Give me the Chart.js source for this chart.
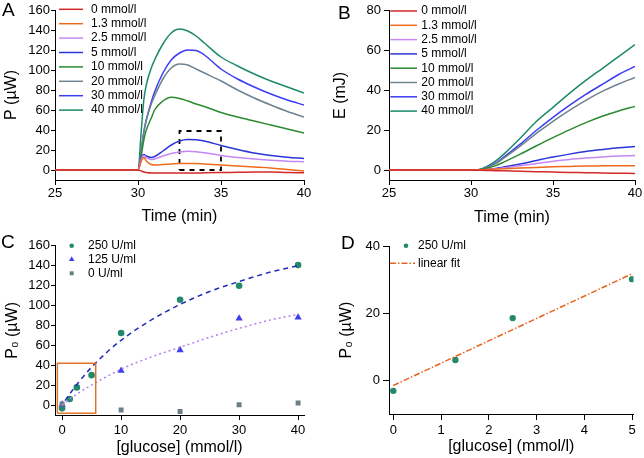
<!DOCTYPE html>
<html>
<head>
<meta charset="utf-8">
<script src="https://cdn.jsdelivr.net/npm/chart.js@4.4.0/dist/chart.umd.min.js"></script>
<style>
  html, body { margin: 0; padding: 0; background: #fff; }
  #fig { position: relative; width: 644px; height: 458px; font-family: 'Liberation Sans', Arial, sans-serif; }
  .panel { position: absolute; width: 322px; height: 229px; }
  .letter { position: absolute; font-size: 19px; line-height: 19px; color: #000; }
</style>
</head>
<body>
<div id="fig">
  <div class="panel" style="left:0;top:0"><canvas id="chartA" width="322" height="229"></canvas></div>
  <div class="panel" style="left:322px;top:0"><canvas id="chartB" width="322" height="229"></canvas></div>
  <div class="panel" style="left:0;top:229px"><canvas id="chartC" width="322" height="229"></canvas></div>
  <div class="panel" style="left:322px;top:229px"><canvas id="chartD" width="322" height="229"></canvas></div>
  <div class="letter" style="left:2px;top:-0.5px">A</div>
  <div class="letter" style="left:338px;top:2.5px">B</div>
  <div class="letter" style="left:1px;top:231.5px">C</div>
  <div class="letter" style="left:341px;top:233px">D</div>
</div>
<script>
// --- Data ---
const concLabels = ['0 mmol/l', '1.3 mmol/l', '2.5 mmol/l', '5 mmol/l', '10 mmol/l', '20 mmol/l', '30 mmol/l', '40 mmol/l'];

// Panel A: heat power P (µW) vs time (min)
const timeA = [25, 30, 30.2, 30.35, 30.5, 30.8, 31, 31.5, 32, 32.5, 33, 33.5, 34, 35, 36, 37, 38, 39, 40];
const powA_0   = [0, 0, -1, -2, -2.5, -3, -3, -3, -3, -3, -3, -3, -2.8, -2.5, -2.3, -2, -2, -2.5, -2.7];
const powA_1_3 = [0, 0, 9, 12.5, 9, 5.5, 5, 5.5, 6, 6.5, 6.5, 6.5, 6, 5, 4, 3, 2, 0.5, -1];
const powA_2_5 = [0, 0, 11, 14.5, 12.5, 10.5, 11, 14, 16.5, 18, 18.7, 18.3, 17.3, 14.5, 12.5, 11, 9.8, 8.8, 8.2];
const powA_5   = [0, 0, 12, 15.5, 14, 12.5, 13.5, 19, 25, 29, 30.5, 30.3, 29, 24.5, 20.5, 17, 14.5, 12.8, 11.5];
const powA_10  = [0, 0, 15, 30, 40, 52, 60, 69, 72.7, 71.5, 69, 66, 63.5, 57.5, 53, 49, 45, 41, 37];
const powA_20  = [0, 0, 20, 38, 50, 66, 74, 91, 102, 106, 105, 101, 97, 89, 80, 72, 65, 58.5, 53];
const powA_30  = [0, 0, 20, 38, 50, 68, 78, 97, 110, 117, 120, 119.5, 115, 101, 91, 83, 76, 70, 65];
const powA_40  = [0, 0, 40, 70, 85, 102, 110, 126, 137, 141, 139, 134, 127, 113, 104, 96, 89, 83, 77];
const boxA = [{x: 32.5, y: 0}, {x: 35, y: 0}, {x: 35, y: 39}, {x: 32.5, y: 39}, {x: 32.5, y: 0}];

// Panel B: heat E (mJ) vs time (min)
const timeB = [25, 30, 30.5, 31, 31.5, 32, 33, 34, 35, 36, 37, 38, 39, 40];
const enB_0   = [0, 0, -0.1, -0.2, -0.3, -0.4, -0.6, -0.8, -1, -1.2, -1.3, -1.5, -1.6, -1.7];
const enB_1_3 = [0, 0, 0.1, 0.3, 0.5, 0.7, 1, 1.3, 1.6, 1.8, 2, 2.1, 2.2, 2.2];
const enB_2_5 = [0, 0, 0.1, 0.3, 0.6, 1.1, 2.1, 3.3, 4.4, 5.3, 6, 6.6, 7, 7.3];
const enB_5   = [0, 0, 0.1, 0.4, 0.8, 1.5, 3, 4.8, 6.5, 8, 9.3, 10.3, 11.2, 11.8];
const enB_10  = [0, 0, 0.2, 1, 2.2, 4, 8, 12.2, 16.3, 20.2, 23.8, 27, 29.7, 32];
const enB_20  = [0, 0, 0.2, 1.4, 3.2, 6, 12, 18.5, 24.5, 30, 35, 39.5, 43.2, 46.5];
const enB_30  = [0, 0, 0.2, 1.5, 3.5, 6.5, 13, 20, 26.5, 32.5, 38, 43, 48, 52];
const enB_40  = [0, 0, 0.3, 2, 4.5, 8, 16, 24.5, 31.5, 38.5, 45, 51, 57, 63];

// Panel C: P0 (µW) vs [glucose] (mmol/l)
const glucC250 = [0, 1.3, 2.5, 5, 10, 20, 30, 40];
const p0C250   = [-3.3, 6, 17.7, 30, 72.3, 105.8, 119.8, 140.5];
const glucC125 = [0, 10, 20, 30, 40];
const p0C125   = [0.5, 34.5, 55.2, 87, 88];
const glucC0   = [0, 10, 20, 30, 40];
const p0C0     = [1, -5, -6.4, 0.3, 2];
const fitX250  = [0.5, 1.2, 2.5, 5, 7.5, 10, 15, 20, 25, 30, 35, 40];
const fitY250  = [4.5, 10.4, 20.7, 38, 52.5, 65, 85, 101, 114, 124, 133, 140];
const fitX125  = [0, 2.5, 5, 10, 15, 20, 25, 30, 35, 40];
const fitY125  = [0, 11, 20, 36, 48, 58, 68, 77, 85, 91];
const boxC = [{x: -0.8, y: -8.3}, {x: 5.7, y: -8.3}, {x: 5.7, y: 42}, {x: -0.8, y: 42}, {x: -0.8, y: -8.3}];

// Panel D: zoom of low concentrations
const glucD = [0, 1.3, 2.5, 5];
const p0D   = [-3.1, 6.1, 18.6, 30.2];
const fitXD = [0, 5];
const fitYD = [-1.5, 31.8];

// --- Styles ---
const FONT = "'Liberation Sans', Arial, sans-serif";
const concColors = ['#d42a2a', '#ee6a1c', '#c488f2', '#2a36d6', '#2b8a2f', '#6f8290', '#3c3cf2', '#1b8a6b'];
const green250 = '#23896c';
const blue125 = '#3f3ff0';
const gray0 = '#6b7e86';

Chart.defaults.font.family = FONT;
Chart.defaults.color = '#000';
Chart.defaults.animation = false;
Chart.defaults.plugins.legend.display = false;
Chart.defaults.plugins.tooltip.enabled = false;

// legend drawn inside the plot area
const insideLegend = {
  id: 'insideLegend',
  afterDatasetsDraw(chart, args, opts) {
    if (!opts.items) return;
    const ctx = chart.ctx;
    ctx.save();
    ctx.font = '12px ' + FONT;
    ctx.textBaseline = 'middle';
    opts.items.forEach((it, i) => {
      const y = it.y !== undefined ? it.y : opts.y + i * opts.gap;
      if (it.type === 'line') {
        ctx.strokeStyle = it.color;
        ctx.lineWidth = 1.5;
        ctx.setLineDash(it.dash || []);
        ctx.beginPath();
        ctx.moveTo(it.x1, y);
        ctx.lineTo(it.x2, y);
        ctx.stroke();
        ctx.setLineDash([]);
      } else {
        ctx.fillStyle = it.color;
        ctx.strokeStyle = it.color;
        Chart.helpers.drawPoint(ctx, {pointStyle: it.style, radius: it.r, rotation: 0, borderWidth: 0}, it.x, y);
      }
      ctx.fillStyle = '#000';
      ctx.fillText(it.text, opts.textX, y);
    });
    ctx.restore();
  }
};
Chart.register(insideLegend);

function axis(o) {
  return {
    type: 'linear', min: o.min, max: o.max,
    ticks: { stepSize: o.step, font: {size: 13}, color: '#000', padding: o.pad, autoSkip: false, includeBounds: false },
    grid: { drawOnChartArea: false, drawTicks: true, tickLength: o.tick, color: '#000' },
    border: { color: '#000', width: 1 },
    title: { display: true, text: o.title, font: {size: 16}, color: '#000', padding: {top: o.tp || 0, bottom: o.tb || 0} },
    afterBuildTicks: s => { s.ticks = s.ticks.filter(t => o.keep(t.value)); },
    afterFit: s => { if (s.isHorizontal()) s.height = o.size; else s.width = o.size; }
  };
}
const multOf = (m, lo, hi) => v => Math.abs(v / m - Math.round(v / m)) < 1e-9 && v >= lo - 1e-9 && v <= hi + 1e-9;

function lineSet(xs, ys, color, extra) {
  return Object.assign({
    data: ys.map((y, k) => ({x: xs[k], y: y})),
    borderColor: color, backgroundColor: color, borderWidth: 1.5,
    pointRadius: 0, showLine: true, fill: false, cubicInterpolationMode: 'monotone'
  }, extra || {});
}
function pointSet(xs, ys, color, style, r) {
  return {
    data: ys.map((y, k) => ({x: xs[k], y: y})),
    backgroundColor: color, borderColor: color, borderWidth: 0,
    pointStyle: style, pointRadius: r, showLine: false
  };
}

// --- Panel A ---
const seriesA = [powA_0, powA_1_3, powA_2_5, powA_5, powA_10, powA_20, powA_30, powA_40];
new Chart(document.getElementById('chartA'), {
  type: 'scatter',
  data: {
    datasets: seriesA.map((vals, i) => lineSet(timeA, vals, concColors[i]))
      .concat([{ data: boxA, showLine: true, borderColor: '#000', borderWidth: 1.8, borderDash: [5, 5], pointRadius: 0, tension: 0 }])
  },
  options: {
    responsive: false,
    layout: { padding: {top: 10, right: 18, bottom: 0, left: 0} },
    scales: {
      x: axis({min: 25, max: 40, step: 5, title: 'Time (min)', size: 49, tick: 5, pad: 1, tb: 2.5, keep: multOf(5, 25, 40)}),
      y: axis({min: -10, max: 160, step: 20, title: 'P (µW)', size: 55, tick: 4, pad: 1, tp: 1.5, keep: multOf(20, 0, 160)})
    },
    plugins: {
      insideLegend: {
        textX: 91, y: 9.3, gap: 14.4,
        items: concLabels.map((t, i) => ({type: 'line', x1: 59, x2: 83, color: concColors[i], text: t}))
      }
    }
  }
});

// --- Panel B ---
const seriesB = [enB_0, enB_1_3, enB_2_5, enB_5, enB_10, enB_20, enB_30, enB_40];
new Chart(document.getElementById('chartB'), {
  type: 'scatter',
  data: { datasets: seriesB.map((vals, i) => lineSet(timeB, vals, concColors[i])) },
  options: {
    responsive: false,
    layout: { padding: {top: 10, right: 9, bottom: 0, left: 0} },
    scales: {
      x: axis({min: 25, max: 40, step: 5, title: 'Time (min)', size: 49, tick: 5, pad: 1, tb: 1.4, keep: multOf(5, 25, 40)}),
      y: axis({min: -5, max: 80, step: 20, title: 'E (mJ)', size: 67, tick: 5, pad: 3, tp: 9.4, keep: multOf(20, 0, 80)})
    },
    plugins: {
      insideLegend: {
        textX: 99.3, y: 11, gap: 14.3,
        items: concLabels.map((t, i) => ({type: 'line', x1: 68.3, x2: 95, color: concColors[i], text: t}))
      }
    }
  }
});

// --- Panel C ---
new Chart(document.getElementById('chartC'), {
  type: 'scatter',
  data: {
    datasets: [
      { data: boxC, showLine: true, borderColor: '#e2742a', borderWidth: 1.5, pointRadius: 0, tension: 0 },
      lineSet(fitX250, fitY250, '#1f2db8', {borderDash: [5, 4]}),
      lineSet(fitX125, fitY125, '#b57ff0', {borderDash: [2, 3]}),
      pointSet(glucC0, p0C0, gray0, 'rect', 3.5),
      pointSet(glucC125, p0C125, blue125, 'triangle', 4.2),
      pointSet(glucC250, p0C250, green250, 'circle', 3.3)
    ]
  },
  options: {
    responsive: false,
    layout: { padding: {top: 16.7, right: 18, bottom: 0, left: 0} },
    scales: {
      x: axis({min: -1.2, max: 41, step: 10, title: '[glucose] (mmol/l)', size: 43, tick: 5, pad: 3, tb: 1.1, keep: multOf(10, 0, 40)}),
      y: axis({min: -10, max: 160, step: 20, title: 'P₀ (µW)', size: 55, tick: 4, pad: 1, tp: 3.4, keep: multOf(20, 0, 160)})
    },
    plugins: {
      insideLegend: {
        textX: 88, y: 16.7, gap: 13.8,
        items: [
          {type: 'point', style: 'circle', r: 2.3, x: 71.7, color: green250, text: '250 U/ml'},
          {type: 'point', style: 'triangle', r: 3.2, x: 71.7, color: blue125, text: '125 U/ml'},
          {type: 'point', style: 'rect', r: 2.8, x: 71.7, color: gray0, text: '0 U/ml'}
        ]
      }
    }
  }
});

// --- Panel D ---
new Chart(document.getElementById('chartD'), {
  type: 'scatter',
  data: {
    datasets: [
      lineSet(fitXD, fitYD, '#e8641e', {borderDash: [6, 2, 1.5, 2], cubicInterpolationMode: 'default', tension: 0}),
      pointSet(glucD, p0D, green250, 'circle', 3.2)
    ]
  },
  options: {
    responsive: false,
    layout: { padding: {top: 17.3, right: 10.5, bottom: 0, left: 0} },
    scales: {
      x: axis({min: -0.09, max: 5.03, step: 1, title: '[glucose] (mmol/l)', size: 44, tick: 6, pad: 3, tb: 1.4, keep: multOf(1, 0, 5)}),
      y: axis({min: -10, max: 40, step: 20, title: 'P₀ (µW)', size: 67, tick: 6, pad: 3, tp: 15.4, keep: multOf(20, 0, 40)})
    },
    plugins: {
      insideLegend: {
        textX: 96, y: 16.7, gap: 17.6,
        items: [
          {type: 'point', style: 'circle', r: 2.3, x: 84, color: green250, text: '250 U/ml'},
          {type: 'line', x1: 68, x2: 93, color: '#e8641e', dash: [6, 2, 1.5, 2], text: 'linear fit'}
        ]
      }
    }
  }
});
</script>
</body>
</html>
